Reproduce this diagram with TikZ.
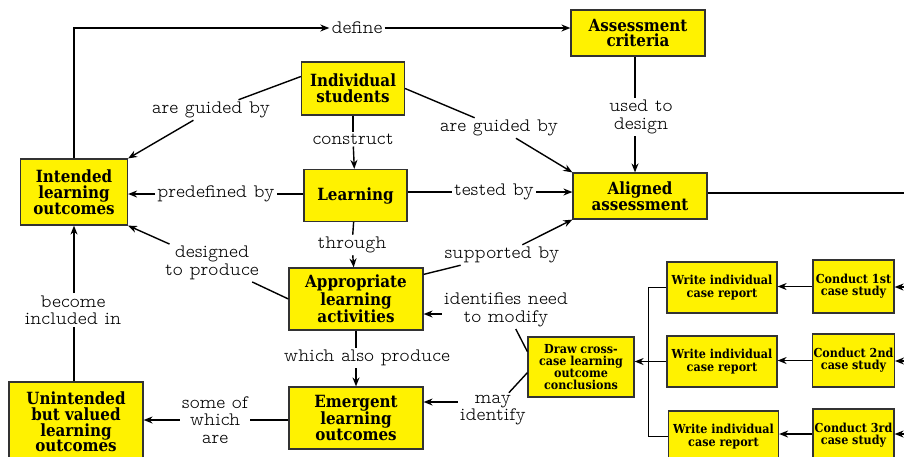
\documentclass[tikz,border=0pt]{standalone}
\usepackage{fontspec}
\usetikzlibrary{arrows.meta}
\newfontfamily\lblfont{lmmonoproplt10-regular.otf}
\newfontfamily\boxfont{DejaVu Serif Condensed Bold}
\begin{document}
\begin{tikzpicture}[x=1pt,y=-1pt,
  box/.style={draw=black!80,line width=1.2pt,fill=yellow,align=center,inner sep=1pt,
    font=\boxfont\fontsize{16.8}{15.8}\selectfont},
  sbox/.style={box,font=\boxfont\fontsize{12.4}{12.2}\selectfont},
  lbl/.style={align=center,inner sep=2pt,font=\lblfont\fontsize{19}{17.5}\selectfont},
  conn/.style={line width=1.4pt,draw=black},
  arr/.style={conn,-{Stealth[length=9pt,width=7pt]}}]
\useasboundingbox (0,0) rectangle (904,456);
% boxes
\node[box,minimum width=107pt,minimum height=66pt] (ILO) at (74,192) {Intended\\learning\\outcomes};
\node[box,minimum width=103pt,minimum height=53pt] (IS) at (353,88.5) {Individual\\students};
\node[box,minimum width=103pt,minimum height=52pt] (L) at (355.5,195.5) {Learning};
\node[box,minimum width=134pt,minimum height=46pt] (AC) at (638,33) {Assessment\\criteria};
\node[box,minimum width=134pt,minimum height=46pt] (AA) at (640,196) {Aligned\\assessment};
\node[box,minimum width=134pt,minimum height=62pt] (ALA) at (356,299) {Appropriate\\learning\\activities};
\node[box,minimum width=134pt,minimum height=62pt] (EL) at (356,418) {Emergent\\learning\\outcomes};
\node[box,minimum width=134pt,minimum height=80pt] (UBV) at (76,422) {Unintended\\but valued\\learning\\outcomes};
\node[sbox,minimum width=106pt,minimum height=60pt] (DCC) at (581,367) {Draw cross-\\case learning\\outcome\\conclusions};
\node[sbox,minimum width=110pt,minimum height=51pt] (W1) at (722,287.5) {Write individual\\case report};
\node[sbox,minimum width=110pt,minimum height=51pt] (W2) at (722,361.5) {Write individual\\case report};
\node[sbox,minimum width=110pt,minimum height=51pt] (W3) at (723.5,436.5) {Write individual\\case report};
\node[sbox,minimum width=81pt,minimum height=53pt] (C1) at (853.5,286.5) {Conduct 1st\\case study};
\node[sbox,minimum width=81pt,minimum height=53pt] (C2) at (853.5,360.5) {Conduct 2nd\\case study};
\node[sbox,minimum width=81pt,minimum height=53pt] (C3) at (853.5,435.5) {Conduct 3rd\\case study};
% labels
\node[lbl] (define) at (357,28) {define};
\node[lbl] (agb1) at (211,110) {are guided by};
\node[lbl] (agb2) at (499,128) {are guided by};
\node[lbl] (constr) at (353,139) {construct};
\node[lbl] (predef) at (216,194) {predefined by};
\node[lbl] (tested) at (494,192) {tested by};
\node[lbl] (used) at (641,117) {used to\\design};
\node[lbl] (through) at (352,245) {through};
\node[lbl] (design) at (212,263) {designed\\to produce};
\node[lbl] (supp) at (502,255) {supported by};
\node[lbl] (ident) at (506,310) {identifies need\\to modify};
\node[lbl] (become) at (73,310) {become\\included in};
\node[lbl] (also) at (367,358) {which also produce};
\node[lbl] (someof) at (215,420) {some of\\which\\are};
\node[lbl] (mayid) at (493,410) {may\\identify};
% free ends
\coordinate (eA) at (904,193);
\coordinate (e1) at (904,287);
\coordinate (e2) at (904,361);
\coordinate (e3) at (904,434);
% connectors
\draw[arr] (ILO.north) |- (define.west);
\draw[arr] (define.east) -- (define.east -| AC.west);
\draw[conn] (IS.west) ++(0,-12) -- (agb1);
\draw[arr] (agb1) -- (ILO.north east);
\draw[conn] (IS.east) -- (agb2);
\draw[arr] (agb2) -- (AA.north west);
\draw[conn] (IS) -- (constr);
\draw[arr] (constr) -- (L);
\draw[conn] (L.west |- predef) -- (predef);
\draw[arr] (predef) -- (predef -| ILO.east);
\draw[conn] (L.east |- tested) -- (tested);
\draw[arr] (tested) -- (tested -| AA.west);
\draw[conn] (AC.south -| 635,0) -- (used.north -| 635,0);
\draw[arr] (used.south -| 635,0) -- (AA.north -| 635,0);
\draw[conn] (AA.east |- eA) -- (eA);
\draw[conn] (L) -- (through);
\draw[arr] (through) -- (ALA);
\draw[conn] (ALA.west) -- (design);
\draw[arr] (design) -- (ILO.south east);
\draw[conn] (ALA.20) -- (supp);
\draw[arr] (supp) -- (AA.south west);
\draw[conn] (DCC.164) -- (ident);
\draw[arr] ([yshift=-4pt]ident.west) -- ([yshift=-4pt]ident.west -| ALA.east);
\draw[conn] (UBV.north -| ILO.south) -- (become.south -| ILO.south);
\draw[arr] (become.north -| ILO.south) -- (ILO.south);
\draw[conn] (ALA) -- (also.north -| ALA.south);
\draw[arr] (also.south -| ALA.south) -- (EL);
\draw[conn] (EL.west |- someof) -- (someof);
\draw[arr] (someof) -- (someof -| UBV.east);
\draw[conn] (DCC.186) -- (mayid);
\draw[arr] ([yshift=8pt]mayid.west) -- ([yshift=8pt]mayid.west -| EL.east);
\draw[conn] (W1.west) -- ++(-18,0) |- (W3.west);
\draw[arr] (W2.west) -- (W2.west -| DCC.east);
\draw[arr] (C1.west) -- (C1.west -| W1.east);
\draw[arr] (C2.west) -- (C2.west -| W2.east);
\draw[arr] (C3.west |- e3) -- (e3 -| W3.east);
\draw[arr] (e1) -- (e1 -| C1.east);
\draw[arr] (e2) -- (e2 -| C2.east);
\draw[arr] (e3) -- (e3 -| C3.east);
\end{tikzpicture}
\end{document}
